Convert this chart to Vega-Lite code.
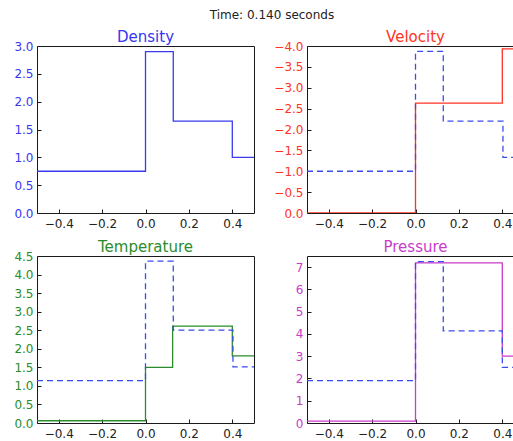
{
  "$schema": "https://vega.github.io/schema/vega-lite/v6.json",
  "background": "white",
  "padding": {"left": 13, "top": 8, "right": 0, "bottom": 0},
  "title": {"text": "Time: 0.140 seconds", "fontSize": 12, "fontWeight": "normal", "font": "DejaVu Sans", "color": "#222222", "anchor": "middle", "offset": 8, "frame": "bounds", "dx": 3},
  "datasets": {
    "dens": [
      {"x": -0.5, "y": 0.75}, {"x": 0.0, "y": 2.9}, {"x": 0.128, "y": 1.65}, {"x": 0.4, "y": 1.0}, {"x": 0.5, "y": 1.0}
    ],
    "vel_sim": [
      {"x": -0.5, "y": 0.0}, {"x": 0.0, "y": -2.63}, {"x": 0.4, "y": -3.93}, {"x": 0.5, "y": -3.93}
    ],
    "vel_exact": [
      {"x": -0.5, "y": -1.0}, {"x": 0.0, "y": -3.87}, {"x": 0.128, "y": -2.2}, {"x": 0.403, "y": -1.33}, {"x": 0.5, "y": -1.33}
    ],
    "temp_sim": [
      {"x": -0.5, "y": 0.06}, {"x": 0.0, "y": 1.5}, {"x": 0.125, "y": 2.61}, {"x": 0.4, "y": 1.81}, {"x": 0.5, "y": 1.81}
    ],
    "temp_exact": [
      {"x": -0.5, "y": 1.14}, {"x": 0.0, "y": 4.36}, {"x": 0.128, "y": 2.5}, {"x": 0.403, "y": 1.51}, {"x": 0.5, "y": 1.51}
    ],
    "pres_sim": [
      {"x": -0.5, "y": 0.08}, {"x": 0.0, "y": 7.19}, {"x": 0.4, "y": 3.0}, {"x": 0.5, "y": 3.0}
    ],
    "pres_exact": [
      {"x": -0.5, "y": 1.9}, {"x": 0.0, "y": 7.25}, {"x": 0.128, "y": 4.14}, {"x": 0.4, "y": 2.5}, {"x": 0.5, "y": 2.5}
    ]
  },
  "columns": 2,
  "bounds": "flush",
  "spacing": {"row": 43, "column": 53},
  "concat": [
    {
      "width": 217, "height": 167,
      "title": {"text": "Density", "color": "#3636f2"},
      "encoding": {
        "x": {"field": "x", "type": "quantitative", "scale": {"domain": [-0.5, 0.5], "nice": false, "zero": false}, "axis": {"title": null, "values": [-0.4, -0.2, 0, 0.2, 0.4], "format": ".1f"}},
        "y": {"field": "y", "type": "quantitative", "scale": {"domain": [0, 3], "nice": false, "zero": false}, "axis": {"title": null, "values": [0, 0.5, 1, 1.5, 2, 2.5, 3], "format": ".1f", "labelColor": "#3636f2"}}
      },
      "layer": [
        {
          "data": {"name": "dens"},
          "mark": {"type": "line", "interpolate": "step-after", "color": "#3a3af0", "strokeWidth": 1.3, "clip": true}
        }
      ]
    },
    {
      "width": 217, "height": 167,
      "title": {"text": "Velocity", "color": "#ff3322"},
      "encoding": {
        "x": {"field": "x", "type": "quantitative", "scale": {"domain": [-0.5, 0.5], "nice": false, "zero": false}, "axis": {"title": null, "values": [-0.4, -0.2, 0, 0.2, 0.4], "format": ".1f"}},
        "y": {"field": "y", "type": "quantitative", "scale": {"domain": [0, -4], "nice": false, "zero": false}, "axis": {"title": null, "values": [0, -0.5, -1, -1.5, -2, -2.5, -3, -3.5, -4], "format": ".1f", "labelColor": "#ff3322"}}
      },
      "layer": [
        {
          "data": {"name": "vel_sim"},
          "mark": {"type": "line", "interpolate": "step-after", "color": "#ff3322", "strokeWidth": 1.3, "clip": true}
        },
        {
          "data": {"name": "vel_exact"},
          "mark": {"type": "line", "interpolate": "step-after", "color": "#3a4cf0", "strokeWidth": 1.3, "strokeDash": [6, 4], "clip": true}
        }
      ]
    },
    {
      "width": 217, "height": 167,
      "title": {"text": "Temperature", "color": "#2a8c2a"},
      "encoding": {
        "x": {"field": "x", "type": "quantitative", "scale": {"domain": [-0.5, 0.5], "nice": false, "zero": false}, "axis": {"title": null, "values": [-0.4, -0.2, 0, 0.2, 0.4], "format": ".1f"}},
        "y": {"field": "y", "type": "quantitative", "scale": {"domain": [0, 4.5], "nice": false, "zero": false}, "axis": {"title": null, "values": [0, 0.5, 1, 1.5, 2, 2.5, 3, 3.5, 4, 4.5], "format": ".1f", "labelColor": "#2a8c2a"}}
      },
      "layer": [
        {
          "data": {"name": "temp_sim"},
          "mark": {"type": "line", "interpolate": "step-after", "color": "#2a8c2a", "strokeWidth": 1.3, "clip": true}
        },
        {
          "data": {"name": "temp_exact"},
          "mark": {"type": "line", "interpolate": "step-after", "color": "#3a4cf0", "strokeWidth": 1.3, "strokeDash": [6, 4], "clip": true}
        }
      ]
    },
    {
      "width": 217, "height": 167,
      "title": {"text": "Pressure", "color": "#c93bc9", "offset": 1},
      "encoding": {
        "x": {"field": "x", "type": "quantitative", "scale": {"domain": [-0.5, 0.5], "nice": false, "zero": false}, "axis": {"title": null, "values": [-0.4, -0.2, 0, 0.2, 0.4], "format": ".1f"}},
        "y": {"field": "y", "type": "quantitative", "scale": {"domain": [0, 7.5], "nice": false, "zero": false}, "axis": {"title": null, "values": [0, 1, 2, 3, 4, 5, 6, 7], "format": "d", "labelColor": "#c93bc9"}}
      },
      "layer": [
        {
          "data": {"name": "pres_sim"},
          "mark": {"type": "line", "interpolate": "step-after", "color": "#c93bc9", "strokeWidth": 1.3, "clip": true}
        },
        {
          "data": {"name": "pres_exact"},
          "mark": {"type": "line", "interpolate": "step-after", "color": "#3a4cf0", "strokeWidth": 1.3, "strokeDash": [6, 4], "clip": true}
        }
      ]
    }
  ],
  "config": {
    "font": "DejaVu Sans",
    "view": {"stroke": "#1a1a1a", "strokeWidth": 1},
    "axis": {
      "grid": false,
      "domain": false,
      "tickSize": -4,
      "tickColor": "#1a1a1a",
      "tickWidth": 1,
      "labelFont": "DejaVu Sans",
      "labelFontSize": 12,
      "labelColor": "#222222",
      "labelOverlap": false,
      "labelFlush": false
    },
    "axisX": {"labelPadding": 9},
    "axisY": {"labelPadding": 8},
    "title": {"font": "DejaVu Sans", "fontSize": 15, "fontWeight": "normal", "offset": -5, "frame": "group", "baseline": "alphabetic"}
  }
}
